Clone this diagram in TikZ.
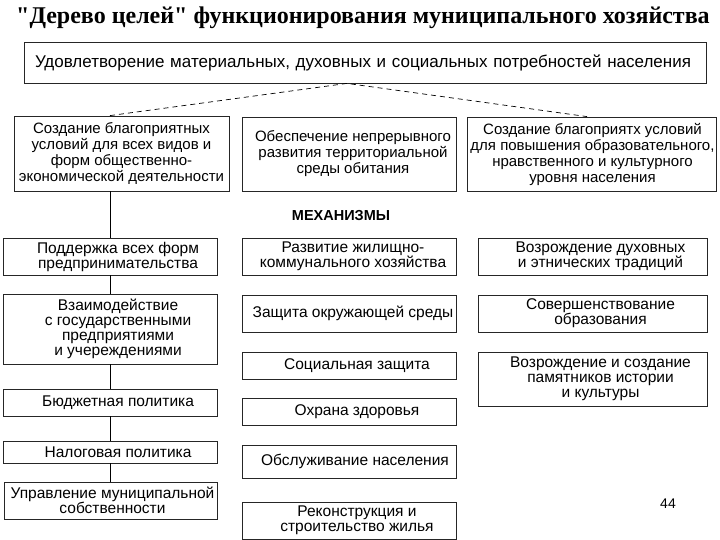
\documentclass[tikz,border=0pt]{standalone}
\usepackage{fontspec}
\setmainfont{Liberation Sans}
\newfontfamily\serifttl{Liberation Serif}
\usetikzlibrary{calc}
\begin{document}
\begin{tikzpicture}[x=1pt,y=-1pt,
  frame/.style={draw=black!85, line width=0.8pt, fill=white, inner sep=0pt},
  box/.style={frame, inner sep=2pt, align=center},
  goaltext/.style={inner sep=0pt, align=center, font=\fontsize{15}{16}\selectfont},
  mechtext/.style={inner sep=0pt, align=center, font=\fontsize{15.5}{15}\selectfont},
  link/.style={black, line width=0.8pt},
  dlink/.style={black, line width=0.7pt, dash pattern=on 5pt off 4pt}]
\useasboundingbox (0,0) rectangle (720,540);
\newcommand\tbox[8]{%
  \node[frame, minimum width=#4pt, minimum height=#5pt] (#1) at (#2,#3) {};
  \node[#8] (#1t) at ([xshift=#7pt]#1.center) {#6};}
% title
\node[font=\serifttl\bfseries\fontsize{24}{28}\selectfont, inner sep=0] (title) at (363,18) {"Дерево целей" функционирования муниципального хозяйства};
% top goal
\node[box, minimum width=682pt, minimum height=41pt, text width=660pt, inner xsep=11pt, align=left,
  font=\fontsize{17}{18}\selectfont] (top) at (365,62.5) {Удовлетворение материальных, духовных и социальных потребностей населения};
% sub goals
\tbox{gl}{121.5}{153.5}{215}{75}{Создание благоприятных\\условий для всех видов и\\форм общественно-\\экономической деятельности}{0}{goaltext}
\tbox{gm}{349}{154}{214}{74}{Обеспечение непрерывного\\развития территориальной\\среды обитания}{4}{goaltext}
\tbox{gr}{591.5}{154}{249}{74}{Создание благоприятх условий\\для повышения образовательного,\\нравственного и культурного\\уровня населения}{1}{goaltext}
% dashed links
\coordinate (apex) at ([xshift=-18pt]top.south);
\coordinate (gltop) at ([xshift=-11.5pt]gl.north);
\coordinate (grtop) at ([xshift=-4.5pt]gr.north);
\draw[dlink] (gltop) -- (apex) -- (grtop);
% mechanisms label
\node[font=\bfseries\fontsize{14.5}{16}\selectfont, inner sep=0] (mechlabel) at (341,216) {МЕХАНИЗМЫ};
% left column
\tbox{l1}{110}{256.5}{214}{37}{Поддержка всех форм\\предпринимательства}{8}{mechtext}
\tbox{l2}{110}{329}{214}{70}{Взаимодействие\\с государственными\\предприятиями\\и учереждениями}{8}{mechtext}
\tbox{l3}{110}{402.5}{214}{27}{Бюджетная политика}{8}{mechtext}
\tbox{l4}{110}{452}{214}{22}{Налоговая политика}{8}{mechtext}
\tbox{l5}{110.5}{500.5}{213}{37}{Управление муниципальной\\собственности}{2}{mechtext}
\draw[link] (l1.north |- gl.south) -- (l1.north);
\draw[link] (l1.south) -- (l2.north);
\draw[link] (l2.south) -- (l3.north);
\draw[link] (l3.south) -- (l4.north);
\draw[link] (l4.south) -- (l4.south |- l5.north);
% middle column
\tbox{m1}{349}{256.5}{214}{37}{Развитие жилищно-\\коммунального хозяйства}{4}{mechtext}
\tbox{m2}{349}{313.5}{214}{37}{Защита окружающей среды}{4}{mechtext}
\tbox{m3}{349}{365.5}{214}{27}{Социальная защита}{8}{mechtext}
\tbox{m4}{349}{411.5}{214}{27}{Охрана здоровья}{8}{mechtext}
\tbox{m5}{349}{461.5}{214}{33}{Обслуживание населения}{6}{mechtext}
\tbox{m6}{349}{520.5}{214}{37}{Реконструкция и\\строительство жилья}{8}{mechtext}
% right column
\tbox{r1}{592.5}{256.5}{229}{37}{Возрождение духовных\\и этнических традиций}{8}{mechtext}
\tbox{r2}{592.5}{313.5}{229}{37}{Совершенствование\\образования}{8}{mechtext}
\tbox{r3}{592.5}{379}{229}{54}{Возрождение и создание\\памятников истории\\и культуры}{8}{mechtext}
% page number
\node[font=\fontsize{14}{16}\selectfont, inner sep=0] (pg) at (668,504) {44};
\end{tikzpicture}
\end{document}
